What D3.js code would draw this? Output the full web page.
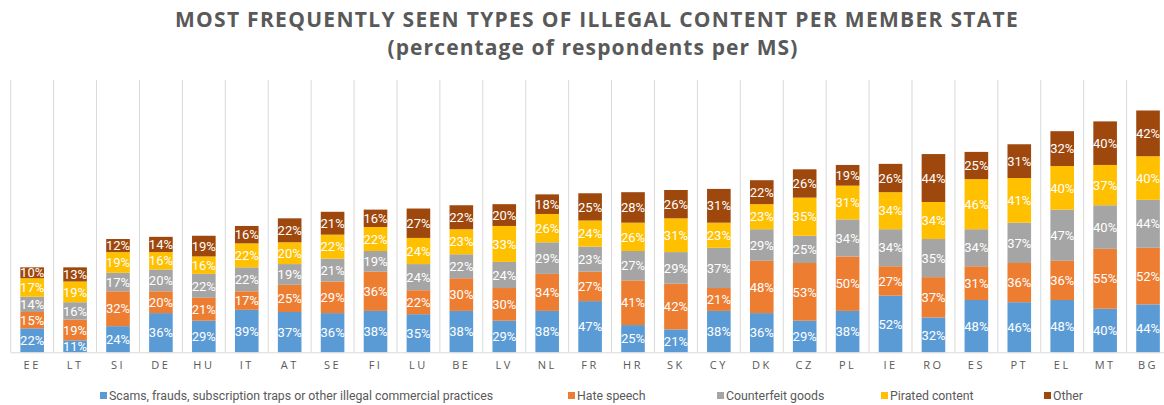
<!DOCTYPE html>
<html>
<head>
<meta charset="utf-8">
<script src="https://cdn.jsdelivr.net/npm/d3@7"></script>
<style>
  body { margin: 0; background: #fff; }
  .title { font-family: 'Open Sans', sans-serif; font-weight: bold; fill: #595959; }
  .tick text { font-family: 'Open Sans', sans-serif; fill: #595959; }
  .seg-label { font-family: 'Roboto', sans-serif; fill: #fff; }
  .legend text { font-family: 'Roboto', sans-serif; fill: #595959; }
</style>
</head>
<body>
<svg width="1164" height="405"></svg>
<script>
const countries = ['EE','LT','SI','DE','HU','IT','AT','SE','FI','LU','BE','LV','NL','FR','HR','SK','CY','DK','CZ','PL','IE','RO','ES','PT','EL','MT','BG'];

const scams =       [22,11,24,36,29,39,37,36,38,35,38,29,38,47,25,21,38,36,29,38,52,32,48,46,48,40,44];
const hateSpeech =  [15,19,32,20,21,17,25,29,36,22,30,30,34,27,41,42,21,48,53,50,27,37,31,36,36,55,52];
const counterfeit = [14,16,17,20,22,22,19,21,19,24,22,24,29,23,27,29,37,29,25,34,34,35,34,37,47,40,44];
const pirated =     [17,19,19,16,16,22,20,22,22,24,23,33,26,24,26,31,23,23,35,31,34,34,46,41,40,37,40];
const other =       [10,13,12,14,19,16,22,21,16,27,22,20,18,25,28,26,31,22,26,19,26,44,25,31,32,40,42];

const seriesNames = ['Scams, frauds, subscription traps or other illegal commercial practices', 'Hate speech', 'Counterfeit goods', 'Pirated content', 'Other'];
const seriesKeys = ['scams', 'hate', 'counterfeit', 'pirated', 'other'];
const colors = ['#5b9bd5', '#ed7d31', '#a5a5a5', '#ffc000', '#9e480e'];

const data = countries.map((c, i) => ({
    country: c,
    scams: scams[i],
    hate: hateSpeech[i],
    counterfeit: counterfeit[i],
    pirated: pirated[i],
    other: other[i]
}));

const svg = d3.select('svg');

const plotLeft = 10.7, plotRight = 1169.5, plotTop = 80, plotBottom = 352.3;

const xScale = d3.scaleBand()
    .domain(countries)
    .range([plotLeft, plotRight])
    .paddingInner(0.45)
    .paddingOuter(0.225);

const yScale = d3.scaleLinear()
    .domain([0, 250])
    .range([plotBottom, plotTop]);

const color = d3.scaleOrdinal().domain(seriesKeys).range(colors);

// vertical separators between categories
const step = xScale.step();
const boundaries = d3.range(countries.length + 1).map(i => plotLeft + i * step);
svg.append('g')
    .selectAll('line')
    .data(boundaries)
    .join('line')
    .attr('x1', d => d).attr('x2', d => d)
    .attr('y1', plotTop).attr('y2', plotBottom)
    .attr('stroke', '#d9d9d9')
    .attr('stroke-width', 1);

const stacked = d3.stack().keys(seriesKeys)(data);

const layers = svg.append('g')
    .selectAll('g')
    .data(stacked)
    .join('g')
    .attr('fill', d => color(d.key));

layers.selectAll('rect')
    .data(d => d)
    .join('rect')
    .attr('x', d => xScale(d.data.country))
    .attr('width', xScale.bandwidth())
    .attr('y', d => yScale(d[1]))
    .attr('height', d => yScale(d[0]) - yScale(d[1]));

layers.selectAll('text')
    .data(d => d)
    .join('text')
    .attr('class', 'seg-label')
    .attr('x', d => xScale(d.data.country) + xScale.bandwidth() / 2)
    .attr('y', d => (yScale(d[0]) + yScale(d[1])) / 2)
    .attr('dy', '0.36em')
    .attr('text-anchor', 'middle')
    .attr('font-size', 13)
    .text(d => (d[1] - d[0]) + '%');

// x axis
const xAxis = d3.axisBottom(xScale).tickSize(0).tickPadding(9);
const xAxisG = svg.append('g')
    .attr('transform', `translate(0, ${plotBottom})`)
    .call(xAxis);
xAxisG.select('.domain')
    .attr('d', `M${plotLeft},0.5H${plotRight}`)
    .attr('stroke', '#d9d9d9');
xAxisG.selectAll('.tick text')
    .attr('font-size', 11)
    .attr('letter-spacing', '2.5px');

// title
svg.append('text')
    .attr('class', 'title')
    .attr('x', 597)
    .attr('y', 27)
    .attr('text-anchor', 'middle')
    .attr('font-size', 21)
    .attr('letter-spacing', '1.3px')
    .text('MOST FREQUENTLY SEEN TYPES OF ILLEGAL CONTENT PER MEMBER STATE');

svg.append('text')
    .attr('class', 'title')
    .attr('x', 593)
    .attr('y', 55)
    .attr('text-anchor', 'middle')
    .attr('font-size', 21)
    .attr('letter-spacing', '1.1px')
    .text('(percentage of respondents per MS)');

// legend
const legendX = [100, 568, 717, 881, 1044];
const legend = svg.append('g')
    .attr('class', 'legend')
    .selectAll('g')
    .data(seriesKeys)
    .join('g')
    .attr('transform', (d, i) => `translate(${legendX[i]}, 396)`);

legend.append('rect')
    .attr('x', 0).attr('y', -4)
    .attr('width', 7).attr('height', 7)
    .attr('fill', d => color(d));

legend.append('text')
    .attr('x', 9)
    .attr('y', 0)
    .attr('dy', '0.35em')
    .attr('font-size', 12.3)
    .text((d, i) => seriesNames[i]);
</script>
</body>
</html>
